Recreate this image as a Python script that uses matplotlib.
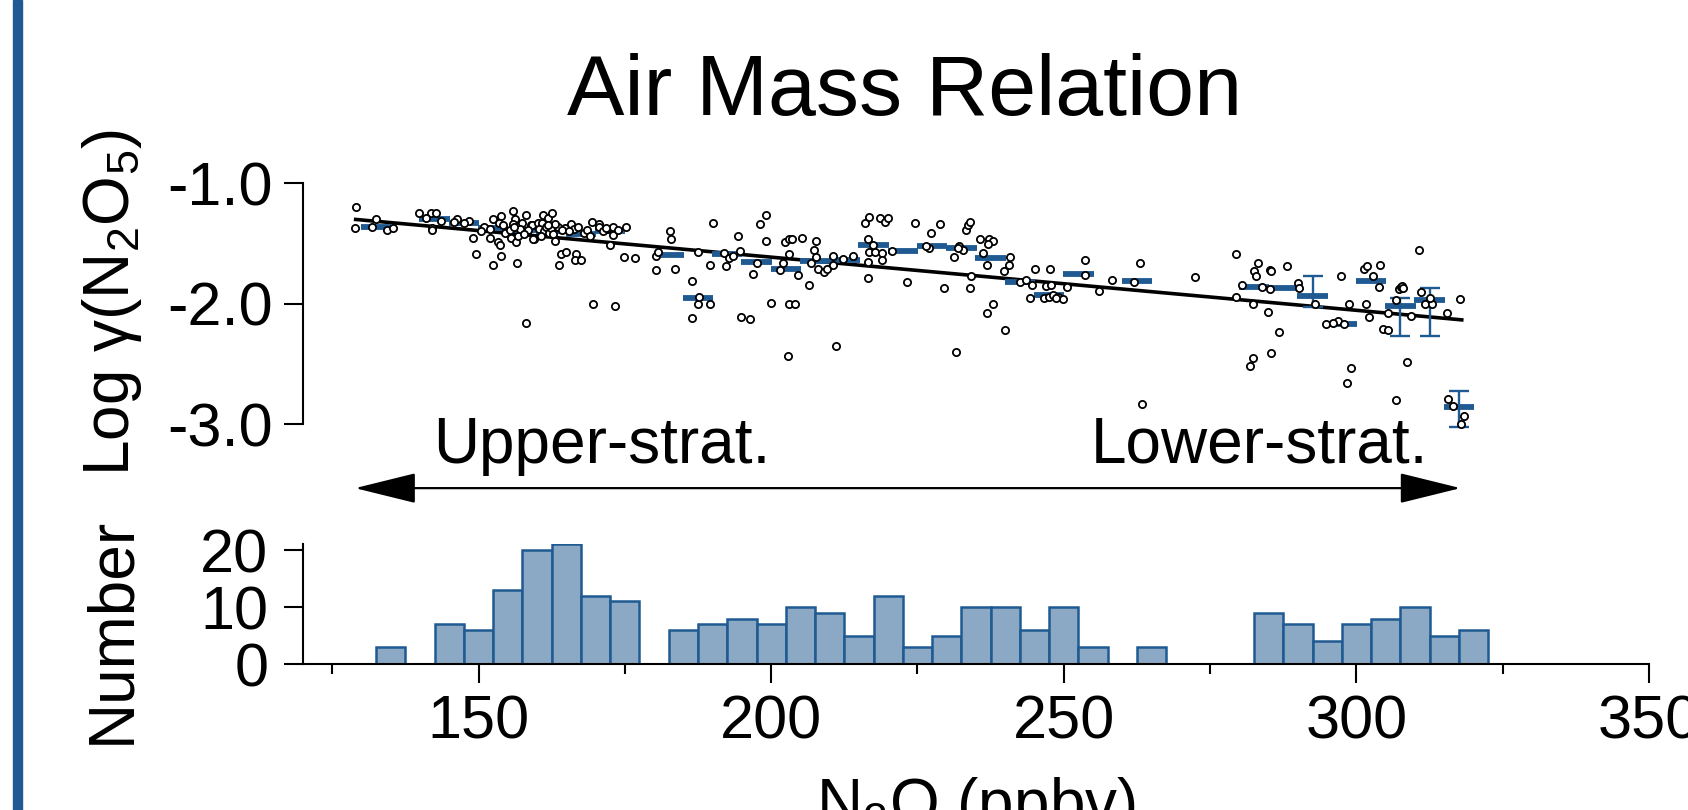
import matplotlib
matplotlib.use("Agg")
import matplotlib.pyplot as plt
import numpy as np
from matplotlib.patches import Rectangle

plt.rcParams['font.family'] = ['Liberation Sans', 'DejaVu Sans']
plt.rcParams['mathtext.default'] = 'regular'
plt.rcParams['axes.unicode_minus'] = False

# ---------------- data ----------------
n2o_ppbv = [
    129.1, 128.9, 132.4, 131.8, 134.4, 135.4,
    139.9, 141.9, 142.7, 142.0, 142.0, 143.5, 141.0,
    146.4, 148.4, 149.0, 149.6, 147.5, 145.8,
    151.9, 152.5, 152.5, 153.8, 153.3, 153.7, 153.8, 153.5, 151.0, 152.0, 154.2, 150.5, 154.6,
    155.9, 156.3, 155.9, 155.6, 156.4, 156.6, 156.7, 157.5, 158.1, 159.5, 158.1, 159.0, 159.8,
    159.2, 159.3, 157.0, 158.5, 155.3, 157.8, 156.0,
    160.2, 160.8, 161.0, 161.8, 162.6, 163.1, 163.5, 164.1, 164.9, 163.8, 164.7, 160.4, 161.2,
    161.5, 162.0, 162.3, 163.0, 160.6, 161.9, 164.3, 162.8,
    165.8, 166.3, 166.6, 166.5, 167.5, 169.4, 169.6, 165.5, 168.0, 167.0, 168.6, 169.0,
    170.5, 170.6, 172.0, 172.9, 172.9, 172.4, 174.8, 173.3, 171.3, 173.8, 171.8,
    175.2, 176.8,
    180.3, 180.4, 180.7, 182.7, 182.9, 183.5,
    186.4, 187.5, 189.5, 186.4, 187.7, 187.5, 189.5,
    190.1, 192.3, 192.0, 192.8, 194.4, 194.7, 194.8, 193.5,
    196.9, 198.1, 199.2, 199.1, 199.9, 196.4, 197.5,
    202.0, 202.3, 203.1, 203.1, 203.6, 203.1, 204.1, 204.6, 202.8, 201.5,
    205.3, 206.5, 207.3, 207.7, 207.6, 208.0, 209.1, 209.6, 206.8,
    210.6, 210.6, 211.1, 213.9, 212.3,
    216.0, 216.8, 216.6, 216.7, 217.8, 219.0, 219.0, 216.5, 216.6, 218.6, 219.5, 217.4,
    220.0, 220.6, 223.2, 224.5,
    227.3, 228.9, 227.0, 229.6, 226.5,
    232.1, 232.7, 231.3, 231.6, 233.3, 233.6, 233.9, 234.2, 233.9, 232.0,
    235.7, 237.2, 237.9, 237.1, 236.2, 236.9, 237.9, 236.9, 239.9, 239.8,
    240.8, 240.6, 244.3, 244.6, 242.5, 243.5,
    245.0, 247.6, 246.9, 247.9, 246.6, 247.4, 248.2, 249.0, 249.8, 248.6,
    250.5, 253.6, 253.6,
    256.0, 258.2,
    263.1, 262.0, 263.3,
    272.5,
    279.4, 279.4, 280.4, 282.5, 282.8, 283.2, 282.3, 283.9, 282.4, 281.9,
    284.9, 285.2, 285.4, 286.8, 288.2, 285.4, 285.3,
    290.1, 290.2, 292.9, 294.8,
    297.3, 298.8, 299.0, 298.4, 296.9, 297.8, 296.0,
    301.3, 301.8, 302.8, 304.1, 303.9, 301.7, 302.2, 304.5,
    305.4, 306.7, 305.4, 307.3, 307.6, 307.8, 309.4, 308.6, 306.7, 308.0,
    310.7, 311.1, 311.7, 313.0, 312.5,
    315.5, 317.7, 315.7, 318.4, 317.9, 316.5,
]
log_gamma = [
    -1.20, -1.37, -1.30, -1.36, -1.39, -1.37,
    -1.25, -1.25, -1.25, -1.37, -1.39, -1.31, -1.29,
    -1.30, -1.31, -1.45, -1.59, -1.33, -1.32,
    -1.45, -1.68, -1.30, -1.27, -1.49, -1.51, -1.60, -1.33, -1.36, -1.38, -1.35, -1.40, -1.41,
    -1.23, -1.30, -1.34, -1.45, -1.49, -1.66, -1.44, -1.33, -1.26, -1.46, -2.16, -1.35, -1.35,
    -1.35, -1.46, -1.38, -1.39, -1.39, -1.42, -1.36,
    -1.33, -1.33, -1.26, -1.29, -1.25, -1.48, -1.36, -1.59, -1.57, -1.68, -1.37, -1.38, -1.40,
    -1.36, -1.41, -1.37, -1.34, -1.44, -1.35, -1.39, -1.42,
    -1.34, -1.38, -1.59, -1.64, -1.64, -1.32, -2.00, -1.40, -1.41, -1.36, -1.39, -1.44,
    -1.34, -1.36, -1.38, -1.36, -1.43, -1.51, -1.61, -2.02, -1.40, -1.39, -1.37,
    -1.36, -1.62,
    -1.60, -1.72, -1.57, -1.40, -1.46, -1.71,
    -1.81, -2.00, -2.00, -2.12, -1.94, -1.57, -1.68,
    -1.33, -1.69, -1.58, -1.62, -1.44, -1.56, -2.11, -1.60,
    -1.75, -1.34, -1.26, -1.48, -1.99, -2.13, -1.66,
    -1.66, -1.49, -1.59, -1.46, -1.46, -2.00, -2.00, -1.76, -2.43, -1.72,
    -1.45, -1.84, -1.55, -1.48, -1.61, -1.71, -1.74, -1.71, -1.66,
    -1.68, -1.60, -2.35, -1.60, -1.63,
    -1.33, -1.28, -1.46, -1.57, -1.57, -1.58, -1.64, -1.65, -1.79, -1.29, -1.32, -1.51,
    -1.29, -1.56, -1.82, -1.33,
    -1.41, -1.34, -1.54, -1.87, -1.52,
    -1.52, -1.55, -1.61, -2.40, -1.39, -1.35, -1.32, -1.77, -1.87, -1.54,
    -1.46, -1.46, -1.48, -1.50, -1.58, -1.68, -2.00, -2.08, -2.22, -1.73,
    -1.61, -1.68, -1.95, -1.84, -1.82, -1.80,
    -1.71, -1.71, -1.85, -1.84, -1.95, -1.94, -1.93, -1.94, -1.96, -1.95,
    -1.86, -1.64, -1.76,
    -1.89, -1.80,
    -1.66, -1.82, -2.83,
    -1.78,
    -1.59, -1.94, -1.84, -1.73, -1.77, -1.66, -2.00, -1.86, -2.45, -2.52,
    -2.07, -1.72, -1.73, -2.23, -1.69, -2.41, -1.88,
    -1.83, -1.87, -2.00, -2.17,
    -1.77, -2.00, -2.53, -2.66, -2.14, -2.17, -2.16,
    -1.71, -1.69, -1.77, -1.68, -1.86, -2.00, -2.11, -2.21,
    -2.22, -1.97, -2.08, -1.88, -1.86, -1.85, -2.10, -2.48, -2.80, -1.87,
    -1.55, -1.90, -2.00, -2.00, -1.95,
    -2.08, -1.96, -2.79, -2.93, -3.00, -2.85,
]

bin_centers = [132.5, 142.5, 147.5, 152.5, 157.5, 162.5, 167.5, 172.5, 182.5, 187.5,
               192.5, 197.5, 202.5, 207.5, 212.5, 217.5, 222.5, 227.5, 232.5, 237.5,
               242.5, 247.5, 252.5, 262.5, 282.5, 287.5, 292.5, 297.5, 302.5, 307.5,
               312.5, 317.5]
bin_medians = [-1.36, -1.30, -1.33, -1.37, -1.39, -1.40, -1.42, -1.40, -1.595, -1.95,
               -1.59, -1.65, -1.71, -1.645, -1.64, -1.51, -1.56, -1.52, -1.54, -1.62,
               -1.82, -1.93, -1.755, -1.81, -1.86, -1.87, -1.935, -2.17, -1.81, -2.02,
               -1.97, -2.86]
err_low = [0.0] * 26 + [0.095, 0.0, 0.0, 0.25, 0.295, 0.16]
err_high = [0.0] * 26 + [0.165, 0.0, 0.0, 0.065, 0.10, 0.14]

hist_centers = [135, 140, 145, 150, 155, 160, 165, 170, 175, 180, 185, 190, 195, 200,
                205, 210, 215, 220, 225, 230, 235, 240, 245, 250, 255, 260, 265, 270,
                275, 280, 285, 290, 295, 300, 305, 310, 315, 320]
hist_counts = [3, 0, 7, 6, 13, 20, 21, 12, 11, 0, 6, 7, 8, 7,
               10, 9, 5, 12, 3, 5, 10, 10, 6, 10, 3, 0, 3, 0,
               0, 0, 9, 7, 4, 7, 8, 10, 5, 6]

fit_slope = -0.00441
fit_intercept = -0.731
fit_range = [129.0, 318.0]

xticks_major = [150, 200, 250, 300, 350]
xticks_minor = [125, 175, 225, 275, 325]
yticks_top = [-3.0, -2.0, -1.0]
yticks_hist = [0, 10, 20]

BLUE = '#1f5a92'
FILL = '#8ba9c5'

# ---------------- figure ----------------
fig = plt.figure(figsize=(16.88, 8.10), dpi=100)
ax = fig.add_axes([0.1795, 0.4762, 0.7974, 0.2975])
axh = fig.add_axes([0.1795, 0.1799, 0.7974, 0.1481])

for a in (ax, axh):
    a.set_xlim(120, 350)
    for s in ('top', 'right'):
        a.spines[s].set_visible(False)
    for s in a.spines.values():
        s.set_linewidth(1.5)

# top panel
ax.set_ylim(-3, -1)
ax.spines['bottom'].set_visible(False)
ax.spines['left'].set_bounds(-3, -1)
ax.tick_params(axis='x', bottom=False, labelbottom=False)
ax.set_yticks(yticks_top)
ax.set_yticklabels([f"{v:.1f}" for v in yticks_top])
ax.tick_params(axis='y', length=14, width=1.5, labelsize=44, pad=8)

xs = np.array(fit_range)
ax.plot(xs, fit_intercept + fit_slope * xs, color='black', lw=2.6, zorder=2, clip_on=False)

bc = np.array(bin_centers)
ax.hlines(bin_medians, bc - 2.6, bc + 2.6, colors=BLUE, lw=4.2, zorder=3, clip_on=False)
eb = ax.errorbar(bin_centers, bin_medians, yerr=[err_low, err_high], fmt='none',
                 ecolor=BLUE, elinewidth=1.7, capsize=7, capthick=1.7, zorder=3)
for art in list(eb.lines[1]) + list(eb.lines[2]):
    art.set_clip_on(False)

ax.plot(n2o_ppbv, log_gamma, 'o', mfc='white', mec='black', ms=5.2, mew=1.3,
        zorder=4, clip_on=False)

# arrow + region labels
ax.annotate('', xy=(128.9, -3.53), xytext=(317.8, -3.53), xycoords='data',
            arrowprops=dict(arrowstyle='<|-|>,head_length=38.9,head_width=9.6',
                            mutation_scale=1, lw=1.6, color='black',
                            shrinkA=0, shrinkB=0),
            annotation_clip=False)
ax.text(142.3, -3.321, 'Upper-strat.', fontsize=46, ha='left', va='baseline', clip_on=False)
ax.text(312.3, -3.321, 'Lower-strat.', fontsize=46, ha='right', va='baseline', clip_on=False)

# histogram
axh.set_ylim(0, 21)
axh.bar(hist_centers, hist_counts, width=5, color=FILL, edgecolor=BLUE, linewidth=1.8,
        zorder=2)
axh.set_xticks(xticks_major)
axh.set_xticks(xticks_minor, minor=True)
axh.set_yticks(yticks_hist)
axh.tick_params(axis='both', which='major', length=14, width=1.5, labelsize=44)
axh.tick_params(axis='x', which='major', pad=8)
axh.tick_params(axis='y', which='major', pad=11)
axh.tick_params(axis='x', which='minor', length=7.5, width=1.5)

# labels
fig.text(0.5356, 0.858, 'Air Mass Relation', fontsize=62, ha='center', va='baseline')
fig.text(0.0664, 0.626, 'Log γ(N$_2$O$_5$)', rotation=90, fontsize=46,
         ha='center', va='center')
fig.text(0.0664, 0.222, 'Number', rotation=90, fontsize=46, ha='center', va='center')
fig.text(0.578, -0.017, 'N$_2$O (ppbv)', fontsize=46, ha='center', va='baseline')

fig.add_artist(Rectangle((13 / 1688, 0), 9 / 1688, 1, transform=fig.transFigure,
                         color=BLUE, zorder=10))

fig.savefig('out.png', dpi=100)
